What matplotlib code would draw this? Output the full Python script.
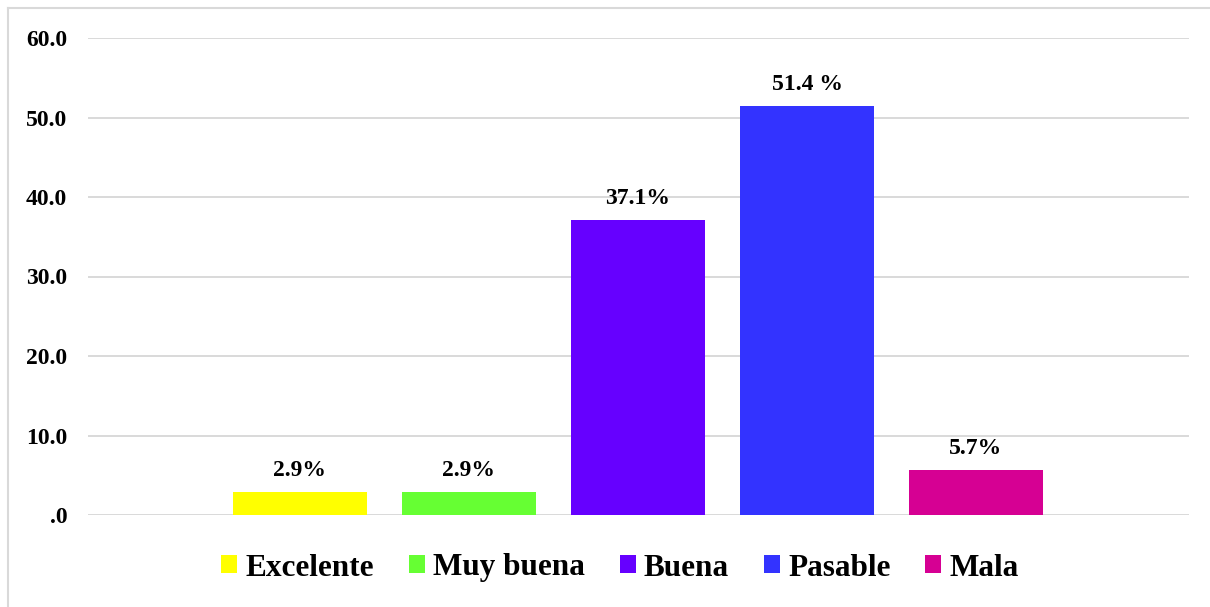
import matplotlib
matplotlib.use("Agg")
import matplotlib.pyplot as plt
from matplotlib.patches import Patch
from matplotlib.lines import Line2D
from matplotlib.ticker import FuncFormatter

# datos del gráfico
categorias = ["Excelente", "Muy buena", "Buena", "Pasable", "Mala"]
valores = [2.9, 2.9, 37.1, 51.4, 5.7]
etiquetas = ["2.9%", "2.9%", "37.1%", "51.4 %", "5.7%"]
colores = ["#FFFF00", "#66FF33", "#6600FF", "#3333FF", "#D60093"]
ticks_y = [0, 10, 20, 30, 40, 50, 60]

plt.rcParams["font.family"] = ["Liberation Serif", "DejaVu Serif"]
plt.rcParams["font.weight"] = "bold"

fig = plt.figure(figsize=(12.1, 6.07), dpi=100)
ax = fig.add_axes([88 / 1210, 1 - 515 / 607, (1189 - 88) / 1210, (515 - 38) / 607])

pos = list(range(len(categorias)))
barras = ax.bar(pos, valores, width=0.79, color=colores, zorder=3)

for x, v, t in zip(pos, valores, etiquetas):
    ax.annotate(t, (x, v), xytext=(0, 16), textcoords="offset pixels",
                ha="center", va="baseline", fontsize=17, fontweight="bold")

ax.set_xlim(-1.254, 5.26)
ax.set_ylim(0, 60)
ax.set_yticks(ticks_y)
ax.yaxis.set_major_formatter(FuncFormatter(lambda v, p: ".0" if v == 0 else f"{v:.1f}"))
ax.set_xticks([])
ax.tick_params(axis="y", length=0, pad=15, labelsize=17)
for lab in ax.get_yticklabels():
    lab.set_fontweight("bold")
ax.grid(axis="y", color="#D9D9D9", linewidth=1.4, zorder=0)
for s in ax.spines.values():
    s.set_visible(False)

handles = [Patch(facecolor=c, edgecolor="none") for c in colores]
fig.legend(handles, categorias, loc="center", bbox_to_anchor=(620 / 1210, 1 - 568 / 607),
           ncol=5, frameon=False, handlelength=0.51, handleheight=0.51,
           handletextpad=0.26, columnspacing=1.12, prop={"weight": "bold", "size": 22.5})

# borde del área del gráfico
fig.add_artist(Line2D([8 / 1210, 1.0], [1 - 8 / 607, 1 - 8 / 607], color="#D9D9D9", lw=1.5))
fig.add_artist(Line2D([8 / 1210, 8 / 1210], [0, 1 - 8 / 607], color="#D9D9D9", lw=1.5))

fig.savefig("out.png", dpi=100)
